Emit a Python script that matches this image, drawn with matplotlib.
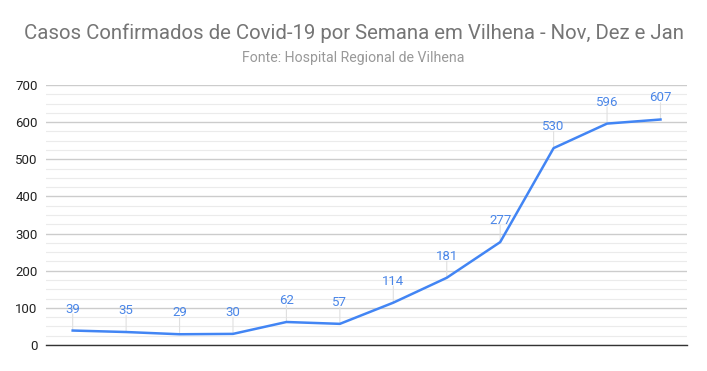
import matplotlib
matplotlib.use("Agg")
import matplotlib.pyplot as plt
from matplotlib.ticker import MultipleLocator

weeks = list(range(12))
cases = [39, 35, 29, 30, 62, 57, 114, 181, 277, 530, 596, 607]
title = "Casos Confirmados de Covid-19 por Semana em Vilhena - Nov, Dez e Jan"
subtitle = "Fonte: Hospital Regional de Vilhena"

plt.rcParams['font.family'] = ['Roboto', 'DejaVu Sans']
fig = plt.figure(figsize=(7.07, 3.71), dpi=100)
ax = fig.add_axes([0.065, 0.070, 0.907, 0.701])

ax.set_xlim(-0.5, 11.5)
ax.set_ylim(0, 700)
ax.yaxis.set_major_locator(MultipleLocator(100))
ax.yaxis.set_minor_locator(MultipleLocator(25))
ax.grid(which='major', axis='y', color='#cccccc', linewidth=1)
ax.grid(which='minor', axis='y', color='#ebebeb', linewidth=0.8)
ax.set_axisbelow(True)
for s in ['top', 'right', 'left']:
    ax.spines[s].set_visible(False)
ax.spines['bottom'].set_color('#333333')
ax.spines['bottom'].set_linewidth(1)
ax.set_xticks([])
ax.tick_params(axis='y', which='both', length=0, labelsize=9.5, labelcolor='#222222', pad=6)

ax.plot(weeks, cases, color='#4285f4', linewidth=1.8, zorder=3)
for x, y in zip(weeks, cases):
    ax.annotate('', xy=(x, y), xytext=(0, 12), textcoords='offset points',
                arrowprops=dict(arrowstyle='-', color='#e0e0e0', linewidth=0.8, shrinkA=0, shrinkB=0), zorder=2)
    ax.annotate(str(y), xy=(x, y), xytext=(0, 15.5), textcoords='offset points',
                ha='center', va='center', fontsize=9.5, color='#4a86e8')

fig.text(0.5, 1 - 33/371, title, ha='center', va='center', fontsize=14.7, color='#757575')
fig.text(0.5, 1 - 58/371, subtitle, ha='center', va='center', fontsize=10.2, color='#999999')

fig.savefig('out.png', dpi=100)
